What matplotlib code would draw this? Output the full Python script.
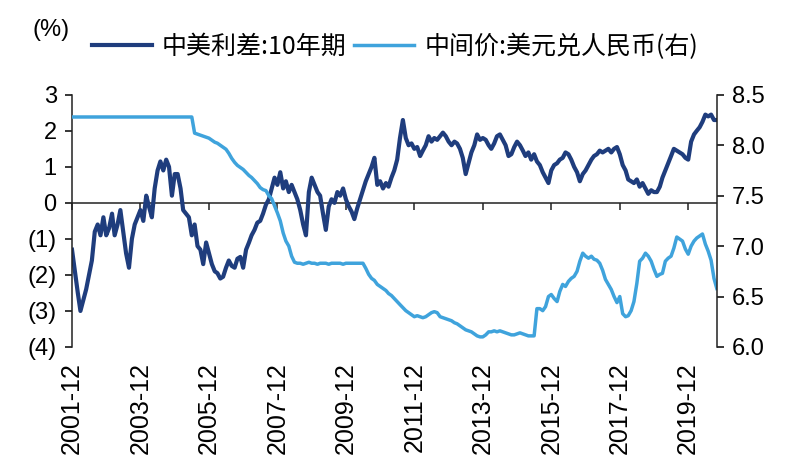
import matplotlib
matplotlib.use('Agg')
import matplotlib.pyplot as plt
import pandas as pd

plt.rcParams['font.family'] = ['Liberation Sans', 'Noto Sans CJK SC']

# monthly readings, 2001-12 .. 2020-10
start_month = '2001-12-01'

# 中美利差:10年期 (%)
spread = [
    -1.3, -1.9, -2.5, -3.0, -2.7, -2.4, -2.0, -1.6, -0.8, -0.6, -0.9, -0.4, -0.9,
    -0.7, -0.3, -0.9, -0.6, -0.2, -0.8, -1.4, -1.8, -1.0, -0.6, -0.4, -0.2,
    -0.5, 0.2, -0.1, -0.4, 0.4, 0.9, 1.15, 0.9, 1.2, 1.0, 0.2, 0.8,
    0.8, 0.4, -0.2, -0.3, -0.4, -0.9, -0.6, -1.2, -1.3, -1.7, -1.1, -1.4,
    -1.7, -1.9, -1.95, -2.1, -2.05, -1.8, -1.6, -1.75, -1.8, -1.55, -1.5, -1.8,
    -1.3, -1.1, -0.9, -0.75, -0.55, -0.5, -0.3, -0.05, 0.1, 0.4, 0.7, 0.5,
    0.85, 0.4, 0.6, 0.3, 0.5, 0.3, 0.1, -0.2, -0.6, -0.9, 0.3, 0.7,
    0.5, 0.3, 0.2, -0.3, -0.75, -0.1, 0.1, 0.0, 0.3, 0.2, 0.4, 0.1,
    -0.1, -0.25, -0.45, -0.15, 0.1, 0.35, 0.6, 0.8, 1.0, 1.25, 0.5, 0.6,
    0.4, 0.55, 0.45, 0.7, 0.9, 1.2, 1.8, 2.3, 1.8, 1.6, 1.65, 1.5,
    1.55, 1.3, 1.45, 1.6, 1.85, 1.7, 1.8, 1.75, 1.85, 1.95, 1.85, 1.7,
    1.6, 1.7, 1.65, 1.5, 1.25, 0.8, 1.1, 1.4, 1.6, 1.9, 1.75, 1.8,
    1.75, 1.6, 1.5, 1.65, 1.85, 1.9, 1.75, 1.6, 1.3, 1.35, 1.55, 1.7,
    1.6, 1.45, 1.3, 1.4, 1.2, 1.35, 1.15, 1.05, 0.85, 0.7, 0.55, 0.9,
    1.05, 1.1, 1.2, 1.25, 1.4, 1.35, 1.2, 1.0, 0.85, 0.6, 0.8, 0.9,
    1.05, 1.2, 1.3, 1.35, 1.45, 1.4, 1.45, 1.5, 1.4, 1.5, 1.55, 1.35,
    1.05, 0.9, 0.65, 0.6, 0.55, 0.65, 0.45, 0.55, 0.4, 0.25, 0.35, 0.3,
    0.3, 0.45, 0.7, 0.9, 1.1, 1.3, 1.5, 1.45, 1.4, 1.35, 1.25, 1.2,
    1.7, 1.9, 2.0, 2.1, 2.25, 2.45, 2.4, 2.45, 2.3, 2.3,
]

# 中间价:美元兑人民币
usdcny = [
    8.28, 8.28, 8.28, 8.28, 8.28, 8.28, 8.28, 8.28, 8.28, 8.28, 8.28, 8.28, 8.28,
    8.28, 8.28, 8.28, 8.28, 8.28, 8.28, 8.28, 8.28, 8.28, 8.28, 8.28, 8.28,
    8.28, 8.28, 8.28, 8.28, 8.28, 8.28, 8.28, 8.28, 8.28, 8.28, 8.28, 8.28,
    8.28, 8.28, 8.28, 8.28, 8.28, 8.28,
    8.12, 8.11, 8.10, 8.09, 8.08, 8.07, 8.05, 8.03, 8.02, 8.00,
    7.98, 7.96, 7.92, 7.87, 7.83, 7.80, 7.78, 7.76, 7.73, 7.70,
    7.68, 7.65, 7.62, 7.58, 7.56, 7.55, 7.50, 7.47, 7.40, 7.33,
    7.25, 7.13, 7.05, 7.00, 6.90, 6.84, 6.83,
    6.83, 6.82, 6.83, 6.84, 6.83, 6.83, 6.82, 6.83, 6.83, 6.83, 6.82,
    6.83, 6.83, 6.83, 6.83, 6.82, 6.83, 6.83, 6.83, 6.83, 6.83, 6.83,
    6.83, 6.78, 6.72, 6.68, 6.66, 6.62, 6.60, 6.58, 6.56, 6.53,
    6.51, 6.48, 6.45, 6.42, 6.39, 6.36, 6.34, 6.32, 6.30, 6.31,
    6.30, 6.29, 6.30, 6.32, 6.34, 6.35, 6.34, 6.30, 6.29, 6.28,
    6.27, 6.26, 6.24, 6.23, 6.21, 6.19, 6.17, 6.16, 6.15, 6.13,
    6.11, 6.10, 6.10, 6.12, 6.15, 6.15, 6.16, 6.15, 6.16, 6.15,
    6.14, 6.13, 6.12, 6.12, 6.13, 6.14, 6.13, 6.12, 6.11, 6.11,
    6.11, 6.38, 6.38, 6.36, 6.40, 6.50, 6.52, 6.48, 6.45, 6.55,
    6.62, 6.60, 6.65, 6.68, 6.70, 6.75, 6.85, 6.93, 6.90, 6.88,
    6.90, 6.87, 6.86, 6.83, 6.76, 6.67, 6.62, 6.57, 6.50, 6.44,
    6.50, 6.33, 6.30, 6.31, 6.36, 6.45, 6.63, 6.85, 6.88, 6.93,
    6.90, 6.85, 6.77, 6.70, 6.72, 6.73, 6.85, 6.88, 6.90, 6.98,
    7.09, 7.07, 7.05, 6.97, 6.92, 7.00, 7.05, 7.08, 7.10, 7.12,
    7.02, 6.95, 6.86, 6.68, 6.58,
]

tick_labels = ['2001-12', '2003-12', '2005-12', '2007-12', '2009-12',
               '2011-12', '2013-12', '2015-12', '2017-12', '2019-12']
left_ticks = [3, 2, 1, 0, -1, -2, -3, -4]
left_labels = ['3', '2', '1', '0', '(1)', '(2)', '(3)', '(4)']
right_ticks = [6.0, 6.5, 7.0, 7.5, 8.0, 8.5]

dates = pd.date_range(start_month, periods=len(spread), freq='MS')
tick_dates = pd.to_datetime(tick_labels)

dark = '#1f3d7d'
light = '#3fa3dc'
axis_col = '#222222'

fig = plt.figure(figsize=(8, 4.74), dpi=100)
ax = fig.add_axes([0.09, 0.268, 0.806, 0.532])

ax.axhline(0, color=axis_col, lw=1.1, zorder=1)
l1, = ax.plot(dates, spread, color=dark, lw=3.0, zorder=2, label='中美利差:10年期')
ax.set_ylim(-4, 3)
ax.set_yticks(left_ticks)
ax.set_yticklabels(left_labels)
ax.set_xlim(dates[0], dates[-1])
ax.set_xticks(tick_dates)
ax.set_xticklabels(tick_labels)

for s in ['top', 'right', 'bottom']:
    ax.spines[s].set_visible(False)
ax.spines['left'].set_color(axis_col)
ax.spines['left'].set_linewidth(1.1)
ax.tick_params(axis='y', direction='out', length=5, width=1.1, pad=6,
               labelsize=17, colors='black')
ax.tick_params(axis='x', length=0, pad=11, labelsize=18, labelrotation=90)

# ticks sitting on the zero line
sec = ax.secondary_xaxis(4 / 7)
sec.set_xticks(tick_dates)
sec.tick_params(axis='x', direction='in', length=5, width=1.1, color=axis_col,
                labeltop=False, labelbottom=False)
for s in sec.spines.values():
    s.set_visible(False)

ax2 = ax.twinx()
l2, = ax2.plot(dates, usdcny, color=light, lw=2.5, label='中间价:美元兑人民币(右)')
ax2.set_ylim(6.0, 8.5)
ax2.set_yticks(right_ticks)
ax2.set_yticklabels(['%.1f' % v for v in right_ticks])
for s in ['top', 'left', 'bottom']:
    ax2.spines[s].set_visible(False)
ax2.spines['right'].set_color(axis_col)
ax2.spines['right'].set_linewidth(1.1)
ax2.tick_params(axis='y', direction='out', length=5, width=1.1, pad=6, labelsize=17)

fig.text(0.041, 0.937, '(%)', fontsize=17, va='center', ha='left')
fig.legend([l1, l2], [l1.get_label(), l2.get_label()], loc='center left',
           bbox_to_anchor=(0.115, 0.901), ncol=2, frameon=False,
           prop={'family': ['Noto Sans CJK SC'], 'size': 18},
           handlelength=2.4, handletextpad=0.4, columnspacing=0.3,
           borderaxespad=0, borderpad=0)

fig.savefig('out.png', dpi=100)
